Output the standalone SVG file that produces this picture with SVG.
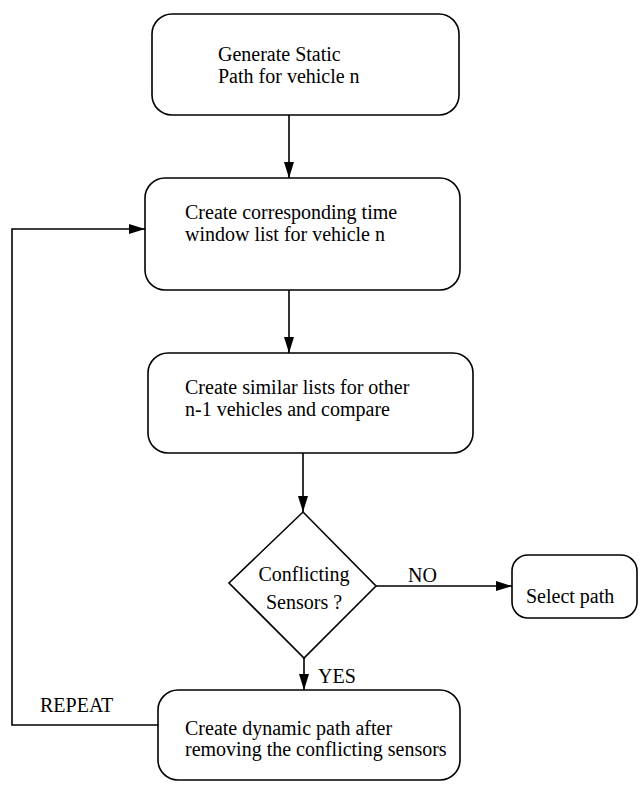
<svg xmlns="http://www.w3.org/2000/svg" width="642" height="785" viewBox="0 0 642 785">
  <style>
    .box { fill: #ffffff; stroke: #000000; stroke-width: 1.6; }
    .lbl { font-family: "Liberation Serif", "Times New Roman", serif; font-size: 20px; fill: #000000; }
    .conn { fill: none; stroke: #000000; stroke-width: 1.6; }
  </style>
  <defs>
    <marker id="arrow" markerWidth="16" markerHeight="10" refX="16" refY="5" orient="auto" markerUnits="userSpaceOnUse">
      <path d="M0,0 L16,5 L0,10 Z" fill="#000000"/>
    </marker>
  </defs>
  <rect width="642" height="785" fill="#ffffff"/>

  <g id="connectors">
    <line class="conn" x1="289" y1="115" x2="289" y2="178" marker-end="url(#arrow)"/>
    <line class="conn" x1="289" y1="290" x2="289" y2="353" marker-end="url(#arrow)"/>
    <line class="conn" x1="303" y1="453" x2="303" y2="512" marker-end="url(#arrow)"/>
    <line class="conn" x1="376" y1="586" x2="512" y2="586" marker-end="url(#arrow)"/>
    <line class="conn" x1="304" y1="658" x2="304" y2="690" marker-end="url(#arrow)"/>
    <polyline class="conn" points="158,725 12,725 12,229 145,229" marker-end="url(#arrow)"/>
    <text class="lbl" x="408" y="582">NO</text>
    <text class="lbl" x="318" y="683">YES</text>
    <text class="lbl" x="40" y="712">REPEAT</text>
  </g>

  <g id="static-path">
    <rect class="box" x="152" y="14" width="307" height="101" rx="20"/>
    <text class="lbl" x="218" y="61">Generate Static</text>
    <text class="lbl" x="218" y="83">Path for vehicle n</text>
  </g>

  <g id="time-window">
    <rect class="box" x="145" y="178" width="315" height="112" rx="20"/>
    <text class="lbl" x="185" y="219">Create corresponding time</text>
    <text class="lbl" x="185" y="241">window list for vehicle n</text>
  </g>

  <g id="similar-lists">
    <rect class="box" x="148" y="353" width="325" height="100" rx="20"/>
    <text class="lbl" x="185" y="394">Create similar lists for other</text>
    <text class="lbl" x="185" y="416">n-1 vehicles and compare</text>
  </g>

  <g id="conflict-check">
    <polygon class="box" points="303,512 376,586 304,658 229,583"/>
    <text class="lbl" x="304" y="581" text-anchor="middle">Conflicting</text>
    <text class="lbl" x="304" y="609" text-anchor="middle">Sensors ?</text>
  </g>

  <g id="select-path">
    <rect class="box" x="512" y="555" width="125" height="63" rx="16"/>
    <text class="lbl" x="526" y="603">Select path</text>
  </g>

  <g id="dynamic-path">
    <rect class="box" x="158" y="690" width="302" height="90" rx="20"/>
    <text class="lbl" x="185" y="735">Create dynamic path after</text>
    <text class="lbl" x="185" y="756">removing the conflicting sensors</text>
  </g>
</svg>
